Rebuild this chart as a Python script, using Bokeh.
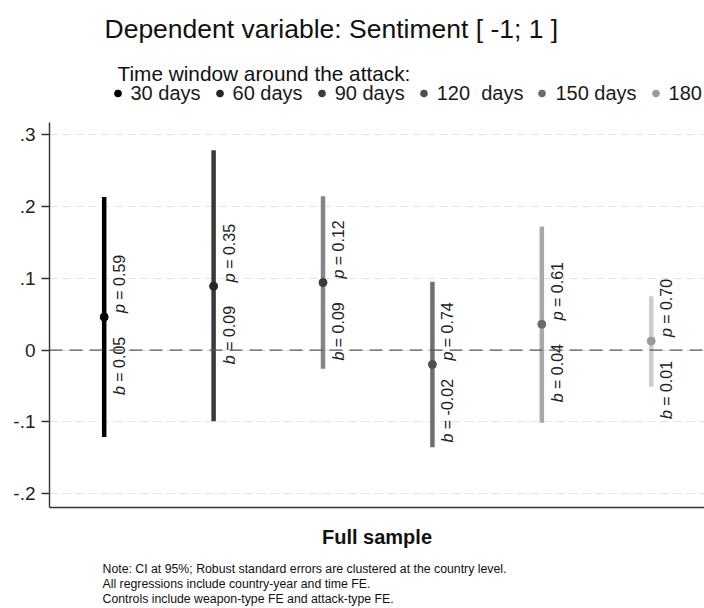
import math
from bokeh.plotting import figure
from bokeh.layouts import column
from bokeh.models import (FixedTicker, Span, Label, Legend, LegendItem, Range1d,
                          ColumnDataSource)
from bokeh.core.properties import value
from bokeh.embed import file_html
from bokeh.resources import INLINE

# ---- data ----
windows = ["30 days", "60 days", "90 days", "120  days", "150 days", "180 days"]
coef = [0.046, 0.089, 0.094, -0.020, 0.036, 0.0125]
ci_low = [-0.121, -0.099, -0.026, -0.135, -0.101, -0.051]
ci_high = [0.213, 0.278, 0.214, 0.095, 0.172, 0.075]
b_values = ["0.05", "0.09", "0.09", "-0.02", "0.04", "0.01"]
p_values = ["0.59", "0.35", "0.12", "0.74", "0.61", "0.70"]
y_ticks = [-0.2, -0.1, 0.0, 0.1, 0.2, 0.3]
y_tick_labels = ["-.2", "-.1", "0", ".1", ".2", ".3"]

title_text = "Dependent variable: Sentiment [ -1; 1 ]"
legend_title = "Time window around the attack:"
x_label = "Full sample"
note_lines = [
    "Note: CI at 95%; Robust standard errors are clustered at the country level.",
    "All regressions include country-year and time FE.",
    "Controls include weapon-type FE and attack-type FE.",
]

# ---- styles ----
bar_colors = ["#000000", "#3a3a3a", "#858585", "#707070", "#a9a9a9", "#cdcdcd"]
dot_colors = ["#000000", "#262626", "#3c3c3c", "#4e4e4e", "#6c6c6c", "#9a9a9a"]
FONT_NAME = "Liberation Sans"
FONT = value(FONT_NAME)

positions = list(range(1, len(windows) + 1))
src = ColumnDataSource(dict(
    x=positions, coef=coef, lo=ci_low, hi=ci_high,
    bar_color=bar_colors, dot_color=dot_colors,
    b_sym=["b"] * len(windows), p_sym=["p"] * len(windows),
    b_text=["= " + v for v in b_values], p_text=["= " + v for v in p_values],
))


def bare_figure(height):
    f = figure(width=704, height=height, output_backend="svg", toolbar_location=None,
               x_axis_location=None, y_axis_location=None,
               x_range=Range1d(100, 101), y_range=Range1d(100, 101),
               min_border=0, min_border_left=0, min_border_right=0,
               min_border_top=0, min_border_bottom=0)
    f.title.visible = False
    f.grid.visible = False
    f.outline_line_color = None
    f.background_fill_color = "white"
    f.border_fill_color = "white"
    return f


# ---------------- header: title + legend ----------------
head = bare_figure(122)
head.add_layout(Label(x=55, y=94, x_units="screen", y_units="screen", text=title_text,
                      text_font=FONT_NAME, text_font_size="26.5px",
                      text_color="#111111", text_baseline="alphabetic"))
head.add_layout(Label(x=68, y=49, x_units="screen", y_units="screen", text=legend_title,
                      text_font=FONT_NAME, text_font_size="20.8px",
                      text_color="#111111", text_baseline="alphabetic"))
# same point-estimate glyph as in the chart (lies outside this header's ranges)
head_dots = head.scatter(x="x", y="coef", source=src, size=8,
                         fill_color="dot_color", line_color="dot_color")
items = [LegendItem(label=w, renderers=[head_dots], index=i)
         for i, w in enumerate(windows)]
legend = Legend(items=items, orientation="horizontal", location=(59.5, 17.5),
                label_text_font=FONT_NAME, label_text_font_size="20px",
                label_text_color="#1a1a1a", glyph_width=17, glyph_height=20,
                label_standoff=5, spacing=10, padding=0, margin=0,
                border_line_color=None, background_fill_alpha=0)
head.add_layout(legend)

# ---------------- main chart ----------------
p = figure(width=704, height=431, output_backend="svg", toolbar_location=None,
           x_range=Range1d(0.5, 6.487), y_range=Range1d(-0.219, 0.3167),
           min_border_left=49, min_border_right=0, min_border_top=0,
           min_border_bottom=46)
p.title.visible = False
p.outline_line_color = None
p.background_fill_color = "white"
p.border_fill_color = "white"

p.xgrid.visible = False
p.ygrid.ticker = FixedTicker(ticks=y_ticks)
p.ygrid.grid_line_color = "#e3e3e3"
p.ygrid.grid_line_dash = "8 5"
p.ygrid.grid_line_width = 1

yax = p.yaxis[0]
yax.ticker = FixedTicker(ticks=y_ticks)
yax.major_label_overrides = {t: l for t, l in zip(y_ticks, y_tick_labels)}
yax.major_label_text_font = FONT_NAME
yax.major_label_text_font_size = "19px"
yax.major_label_text_color = "#222222"
yax.major_label_standoff = 6
yax.major_tick_out = 8
yax.major_tick_in = 0
yax.minor_tick_out = 0
yax.minor_tick_in = 0
yax.axis_line_color = "#333333"
yax.axis_line_width = 1.4
yax.major_tick_line_color = "#333333"
yax.major_tick_line_width = 1.4

xax = p.xaxis[0]
xax.ticker = FixedTicker(ticks=[])
xax.major_tick_out = 0
xax.major_tick_in = 0
xax.minor_tick_out = 0
xax.minor_tick_in = 0
xax.axis_line_color = "#333333"
xax.axis_line_width = 1.6
xax.axis_label = x_label
xax.axis_label_text_font = FONT_NAME
xax.axis_label_text_font_size = "20px"
xax.axis_label_text_font_style = "bold"
xax.axis_label_text_color = "#111111"
xax.axis_label_standoff = 18

p.add_layout(Span(location=0, dimension="width", line_color="#555555",
                  line_dash="13 7", line_width=1.4))

p.segment(x0="x", y0="lo", x1="x", y1="hi", source=src,
          line_color="bar_color", line_width=4.5)
p.scatter(x="x", y="coef", source=src, size=8,
          fill_color="dot_color", line_color="dot_color")

common = dict(source=src, angle=math.pi / 2, text_font=FONT,
              text_font_size="16px", text_color="#222222",
              text_baseline="top", text_align="left", x_offset=7)
p.text(x="x", y="coef", text="b_sym", y_offset=78, text_font_style="italic", **common)
p.text(x="x", y="coef", text="b_text", y_offset=64.7, **common)
p.text(x="x", y="coef", text="p_sym", y_offset=-4, text_font_style="italic", **common)
p.text(x="x", y="coef", text="p_text", y_offset=-17.3, **common)

# ---------------- footer: note ----------------
foot = bare_figure(55)
for k, line in enumerate(note_lines):
    foot.add_layout(Label(x=53, y=39.5 - 15 * k, x_units="screen", y_units="screen",
                          text=line, text_font=FONT_NAME, text_font_size="12.3px",
                          text_color="#111111", text_baseline="alphabetic"))

page = column(head, p, foot, spacing=0)
open("out.html", "w").write(file_html(page, INLINE))
